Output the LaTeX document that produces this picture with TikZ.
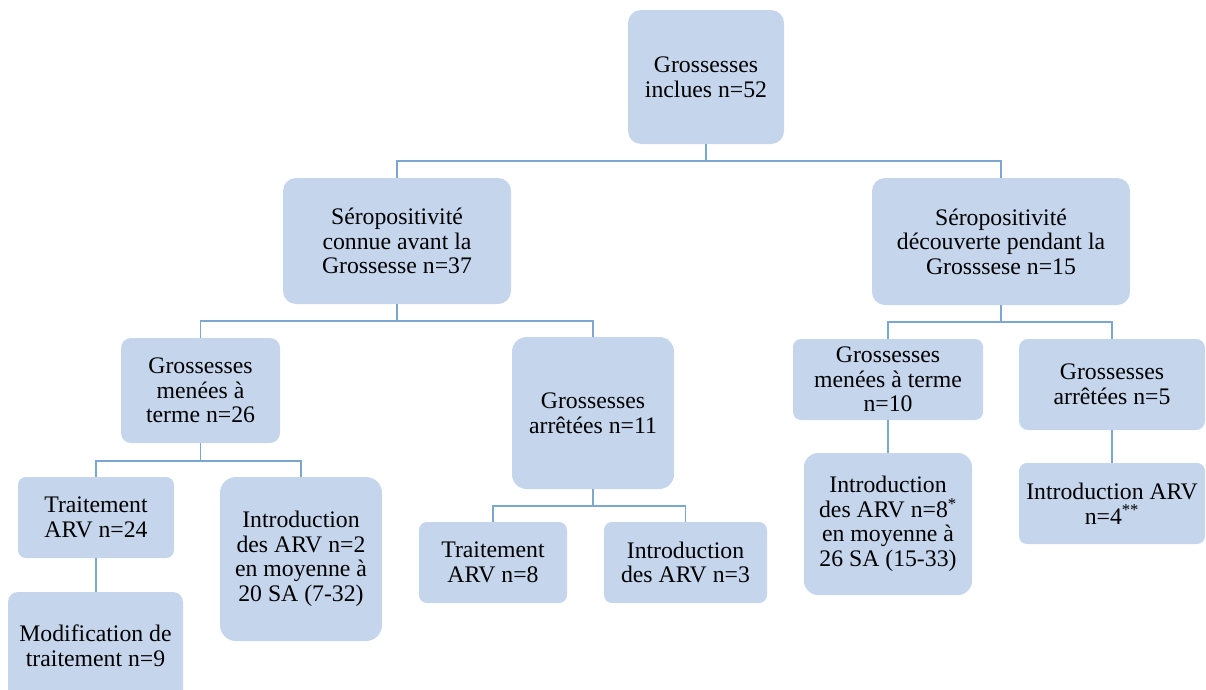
\documentclass[tikz,border=0pt]{standalone}
\usepackage{fontspec}
\setmainfont{Liberation Serif}
\definecolor{boxfill}{RGB}{196,213,236}
\definecolor{linec}{RGB}{122,166,207}
\tikzset{
  bx/.style n args={3}{draw=none, fill=boxfill, rounded corners=#3,
    minimum width=#1*0.75pt, minimum height=#2*0.75pt, inner sep=0pt,
    align=center, font=\fontsize{17.8}{18.4}\selectfont},
  conn/.style={draw=linec, line width=0.9pt}
}
\begin{document}
\begin{tikzpicture}[x=0.75pt,y=-0.75pt]
\useasboundingbox (0,0) rectangle (1206,689);
\clip (0,0) rectangle (1206,689);
% level 0
\node[bx={156}{134}{9.75pt}] (root) at (706,77) {Grossesses\\inclues n=52};
% level 1
\node[bx={228}{126}{9.75pt}] (s1) at (397,241) {Séropositivité\\connue avant la\\Grossesse n=37};
\node[bx={258}{127}{9.75pt}] (s2) at (1001,241.5) {Séropositivité\\découverte pendant la\\Grosssese n=15};
% level 2
\node[bx={159}{105}{7.5pt}] (a) at (200.5,390.5) {Grossesses\\menées à\\terme n=26};
\node[bx={162}{152}{11pt}] (b) at (593,413) {Grossesses\\arrêtées n=11};
\node[bx={190}{81}{6pt}] (c) at (888,379.5) {Grossesses\\menées à terme\\n=10};
\node[bx={186}{91}{6.75pt}] (d) at (1112,384.5) {Grossesses\\arrêtées n=5};
% level 3
\node[bx={156}{81}{6pt}] (a1) at (96,517.5) {Traitement\\ARV n=24};
\node[bx={162}{164}{12pt}] (a2) at (301,559) {Introduction\\des ARV n=2\\en moyenne à\\20 SA (7-32)};
\node[bx={148}{81}{6pt}] (b1) at (493,562.5) {Traitement\\ARV n=8};
\node[bx={163}{81}{6pt}] (b2) at (685.5,562.5) {Introduction\\des ARV n=3};
\node[bx={168}{142}{10.5pt}] (c1) at (888,524) {Introduction\\des ARV n=8\textsuperscript{*}\\en moyenne à\\26 SA (15-33)};
\node[bx={186}{81}{6pt}] (d1) at (1112,503.5) {Introduction ARV\\n=4\textsuperscript{**}};
% level 4
\node[bx={175}{108}{7.5pt}] (a11) at (95.5,646) {Modification de\\traitement n=9};
% connectors
\draw[conn] (root.south) -- (root.south |- 0,161) coordinate (j0);
\draw[conn] (s1.north) |- (j0) -| (s2.north);
\draw[conn] (s1.south) -- (s1.south |- 0,321) coordinate (j1);
\draw[conn] (a.north) |- (j1) -| (b.north);
\draw[conn] (s2.south) -- (s2.south |- 0,322) coordinate (j2);
\draw[conn] (c.north) |- (j2) -| (d.north);
\draw[conn] (a.south) -- (a.south |- 0,461) coordinate (j3);
\draw[conn] (a1.north) |- (j3) -| (a2.north);
\draw[conn] (b.south) -- (b.south |- 0,506) coordinate (j4);
\draw[conn] (b1.north) |- (j4) -| (b2.north);
\draw[conn] (a1.south) -- (a11.north -| a1.south);
\draw[conn] (c.south) -- (c1.north);
\draw[conn] (d.south) -- (d1.north);
\end{tikzpicture}
\end{document}
